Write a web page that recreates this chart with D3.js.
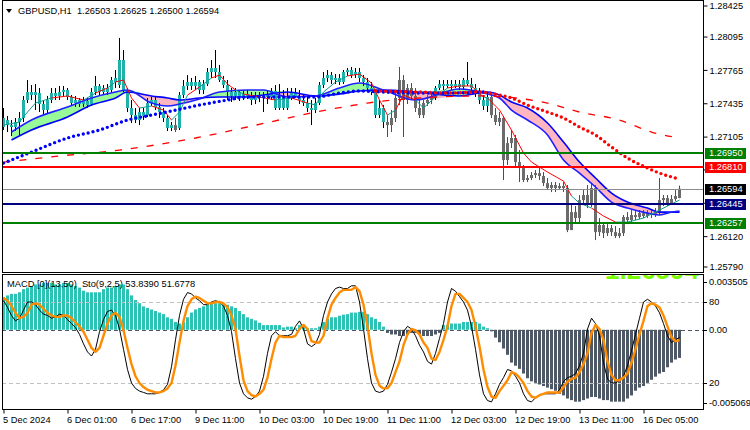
<!DOCTYPE html>
<html><head><meta charset="utf-8">
<script src="https://cdn.jsdelivr.net/npm/d3@7"></script>
<style>
body{margin:0;background:#fff}
svg{display:block}
text{font-family:"Liberation Sans",Arial,sans-serif;font-size:9.3px;fill:#000;white-space:pre}
</style></head><body>
<svg id="c" width="750" height="430"></svg>
<script>
// ---------------- DATA ----------------
const titleText = "GBPUSD,H1  1.26503 1.26625 1.26500 1.26594";
const subTitleText = "MACD [0](13,50)  Sto(9,2,5) 53.8390 51.6778";
const dateTickBars = [0,16,32,48,64,80,96,112,128,144,160];
const dateLabels = ["5 Dec 2024","6 Dec 01:00","6 Dec 17:00","9 Dec 11:00","10 Dec 03:00","10 Dec 19:00","11 Dec 11:00","12 Dec 03:00","12 Dec 19:00","13 Dec 11:00","16 Dec 05:00"];
const priceTicks = [1.28425,1.28095,1.27765,1.27435,1.27105,1.26780,1.26450,1.26120,1.25790];
const subTickValues = [0.003505,0,-0.005069];
const subTickLabels = ["0.003505","0.00","-0.005069"];
const stochLevels = [80,20];
// hourly candles [open, high, low, close]
const ohlc = [
[1.27205,1.27393,1.27175,1.27294],[1.27274,1.27314,1.27155,1.27224],[1.27224,1.27274,1.27116,1.27205],[1.27205,1.27294,1.27165,1.27254],
[1.27254,1.27353,1.27126,1.27294],[1.27294,1.27512,1.27254,1.27472],[1.27472,1.27670,1.27442,1.27551],[1.27551,1.27620,1.27472,1.27521],
[1.27521,1.27630,1.27373,1.27551],[1.27541,1.27591,1.27353,1.27432],[1.27432,1.27472,1.27323,1.27373],[1.27373,1.27512,1.27343,1.27472],
[1.27472,1.27591,1.27442,1.27541],[1.27541,1.27591,1.27472,1.27512],[1.27512,1.27611,1.27472,1.27551],[1.27551,1.27611,1.27512,1.27571],
[1.27571,1.27591,1.27472,1.27502],[1.27502,1.27521,1.27413,1.27442],[1.27442,1.27512,1.27403,1.27472],[1.27472,1.27492,1.27403,1.27432],
[1.27432,1.27502,1.27403,1.27462],[1.27462,1.27492,1.27393,1.27422],[1.27432,1.27591,1.27413,1.27551],[1.27551,1.27710,1.27521,1.27611],
[1.27611,1.27630,1.27521,1.27551],[1.27551,1.27620,1.27521,1.27591],[1.27591,1.27630,1.27521,1.27551],[1.27571,1.27700,1.27551,1.27670],
[1.27650,1.27769,1.27591,1.27690],[1.27620,1.28086,1.27591,1.27868],[1.27868,1.27967,1.27551,1.27571],[1.27571,1.27591,1.27353,1.27393],
[1.27393,1.27472,1.27244,1.27323],[1.27323,1.27393,1.27244,1.27274],[1.27274,1.27393,1.27224,1.27353],[1.27353,1.27393,1.27274,1.27314],
[1.27323,1.27492,1.27304,1.27442],[1.27442,1.27502,1.27413,1.27472],[1.27472,1.27512,1.27373,1.27403],[1.27403,1.27442,1.27294,1.27353],
[1.27353,1.27393,1.27254,1.27294],[1.27294,1.27323,1.27165,1.27195],[1.27195,1.27254,1.27165,1.27224],[1.27224,1.27294,1.27155,1.27175],
[1.27195,1.27551,1.27175,1.27521],[1.27521,1.27670,1.27492,1.27611],[1.27611,1.27719,1.27571,1.27650],[1.27650,1.27690,1.27571,1.27611],
[1.27611,1.27710,1.27571,1.27650],[1.27650,1.27670,1.27531,1.27571],[1.27571,1.27670,1.27531,1.27630],[1.27630,1.27789,1.27611,1.27749],
[1.27749,1.27868,1.27690,1.27789],[1.27789,1.27967,1.27690,1.27749],[1.27749,1.27819,1.27650,1.27670],[1.27670,1.27710,1.27591,1.27620],
[1.27620,1.27670,1.27472,1.27551],[1.27551,1.27591,1.27452,1.27512],[1.27512,1.27591,1.27472,1.27551],[1.27551,1.27571,1.27462,1.27502],
[1.27502,1.27571,1.27472,1.27531],[1.27531,1.27571,1.27482,1.27512],[1.27512,1.27551,1.27422,1.27472],[1.27472,1.27551,1.27432,1.27512],
[1.27512,1.27551,1.27452,1.27492],[1.27492,1.27551,1.27353,1.27521],[1.27521,1.27571,1.27432,1.27502],[1.27502,1.27591,1.27472,1.27561],
[1.27561,1.27620,1.27373,1.27393],[1.27393,1.27630,1.27373,1.27512],[1.27512,1.27571,1.27373,1.27393],[1.27393,1.27591,1.27373,1.27492],
[1.27492,1.27591,1.27472,1.27541],[1.27541,1.27591,1.27492,1.27512],[1.27512,1.27571,1.27432,1.27472],[1.27472,1.27521,1.27413,1.27442],
[1.27442,1.27512,1.27353,1.27393],[1.27393,1.27472,1.27224,1.27373],[1.27373,1.27492,1.27343,1.27442],[1.27442,1.27650,1.27422,1.27620],
[1.27620,1.27749,1.27591,1.27690],[1.27690,1.27769,1.27650,1.27719],[1.27719,1.27749,1.27630,1.27670],[1.27670,1.27729,1.27630,1.27690],
[1.27690,1.27729,1.27620,1.27650],[1.27650,1.27769,1.27630,1.27749],[1.27749,1.27789,1.27710,1.27769],[1.27769,1.27799,1.27690,1.27719],
[1.27719,1.27789,1.27690,1.27749],[1.27749,1.27789,1.27650,1.27690],[1.27690,1.27719,1.27611,1.27650],[1.27650,1.27690,1.27551,1.27591],
[1.27591,1.27650,1.27521,1.27551],[1.27551,1.27571,1.27294,1.27323],[1.27323,1.27472,1.27294,1.27393],[1.27393,1.27422,1.27195,1.27254],
[1.27254,1.27323,1.27106,1.27224],[1.27224,1.27373,1.27155,1.27294],[1.27294,1.27551,1.27254,1.27492],[1.27492,1.27799,1.27422,1.27670],
[1.27670,1.27719,1.27106,1.27472],[1.27472,1.27630,1.27432,1.27591],[1.27591,1.27640,1.27472,1.27512],[1.27512,1.27591,1.27353,1.27393],
[1.27393,1.27472,1.27294,1.27323],[1.27323,1.27472,1.27294,1.27442],[1.27442,1.27521,1.27413,1.27472],[1.27472,1.27531,1.27432,1.27492],
[1.27492,1.27611,1.27472,1.27591],[1.27591,1.27670,1.27571,1.27630],[1.27630,1.27670,1.27571,1.27611],[1.27611,1.27670,1.27591,1.27630],
[1.27630,1.27670,1.27571,1.27611],[1.27611,1.27670,1.27591,1.27630],[1.27630,1.27670,1.27571,1.27601],[1.27601,1.27690,1.27571,1.27670],
[1.27670,1.27848,1.27611,1.27630],[1.27630,1.27690,1.27551,1.27591],[1.27591,1.27630,1.27502,1.27551],[1.27551,1.27591,1.27432,1.27472],
[1.27472,1.27521,1.27373,1.27413],[1.27413,1.27551,1.27353,1.27502],[1.27502,1.27521,1.27294,1.27323],[1.27323,1.27393,1.27224,1.27254],
[1.27254,1.27353,1.27215,1.27294],[1.27294,1.27314,1.26680,1.26878],[1.26878,1.27106,1.26829,1.27046],[1.27046,1.27175,1.26997,1.27096],
[1.27096,1.27126,1.26819,1.26858],[1.26858,1.26977,1.26660,1.26799],[1.26799,1.26829,1.26660,1.26680],[1.26680,1.26730,1.26660,1.26700],
[1.26700,1.26759,1.26680,1.26730],[1.26730,1.26779,1.26700,1.26749],[1.26749,1.26799,1.26680,1.26720],[1.26720,1.26759,1.26621,1.26650],
[1.26650,1.26700,1.26581,1.26601],[1.26601,1.26660,1.26561,1.26631],[1.26631,1.26660,1.26561,1.26601],[1.26601,1.26650,1.26581,1.26621],
[1.26621,1.26660,1.26561,1.26601],[1.26601,1.26631,1.26165,1.26185],[1.26185,1.26433,1.26185,1.26363],[1.26363,1.26423,1.26264,1.26304],
[1.26304,1.26532,1.26264,1.26482],[1.26482,1.26581,1.26442,1.26532],[1.26532,1.26631,1.26403,1.26433],[1.26433,1.26640,1.26413,1.26601],
[1.26601,1.26631,1.26086,1.26165],[1.26165,1.26304,1.26126,1.26235],[1.26235,1.26264,1.26106,1.26155],[1.26155,1.26244,1.26126,1.26205],
[1.26205,1.26235,1.26126,1.26165],[1.26165,1.26225,1.26106,1.26126],[1.26126,1.26205,1.26106,1.26155],[1.26155,1.26334,1.26126,1.26314],
[1.26314,1.26363,1.26244,1.26284],[1.26284,1.26383,1.26264,1.26334],[1.26334,1.26373,1.26284,1.26314],[1.26314,1.26383,1.26294,1.26353],
[1.26353,1.26383,1.26304,1.26324],[1.26324,1.26383,1.26304,1.26353],[1.26353,1.26383,1.26304,1.26334],[1.26334,1.26403,1.26314,1.26363],
[1.26363,1.26700,1.26334,1.26482],[1.26482,1.26532,1.26423,1.26502],[1.26502,1.26532,1.26423,1.26452],[1.26452,1.26532,1.26433,1.26492],
[1.26492,1.26581,1.26472,1.26522],[1.26503,1.26625,1.26500,1.26594]
];
// bar ranges drawn in the bearish (grey) colour
const grayRuns = [[43,43],[96,107],[122,169]];
// fast MA (thin line) : bar index + value
const fastIdx = [0,4,6,8,12,16,20,23,26,28,30,32,34,37,40,42,44,46,49,52,54,56,58,60,64,68,72,76,78,80,83,86,89,92,94,96,98,100,103,105,108,111,114,117,120,121,124,127,130,132,136,140,142,144,147,150,153,156,160,164,166,169];
const fastVal = [1.27224,1.27254,1.27353,1.27442,1.27492,1.27512,1.27472,1.27541,1.27591,1.27650,1.27670,1.27492,1.27393,1.27413,1.27373,1.27274,1.27353,1.27521,1.27601,1.27690,1.27719,1.27630,1.27571,1.27531,1.27502,1.27472,1.27492,1.27442,1.27422,1.27551,1.27650,1.27710,1.27729,1.27640,1.27472,1.27323,1.27373,1.27521,1.27472,1.27393,1.27502,1.27591,1.27611,1.27611,1.27502,1.27492,1.27373,1.27175,1.26947,1.26858,1.26759,1.26670,1.26522,1.26452,1.26403,1.26324,1.26264,1.26264,1.26304,1.26383,1.26423,1.26482];
// cloud (two MAs with fill)
const cloudIdx = [2,7,16,22,28,31,37,41,44,49,54,61,65,71,78,84,89,95,103,114,121,124,127,131,136,140,144,148,152,156,161,164,166,169];
const cloudFast = [1.27155,1.27274,1.27403,1.27492,1.27551,1.27571,1.27442,1.27413,1.27432,1.27482,1.27551,1.27571,1.27571,1.27502,1.27512,1.27591,1.27640,1.27571,1.27472,1.27581,1.27531,1.27492,1.27373,1.27274,1.27126,1.26878,1.26749,1.26611,1.26462,1.26403,1.26353,1.26334,1.26353,1.26373];
const cloudSlow = [1.27076,1.27175,1.27304,1.27422,1.27492,1.27551,1.27512,1.27492,1.27472,1.27492,1.27502,1.27502,1.27521,1.27551,1.27512,1.27531,1.27561,1.27571,1.27551,1.27512,1.27551,1.27521,1.27452,1.27393,1.27244,1.27056,1.26858,1.26700,1.26551,1.26462,1.26403,1.26363,1.26363,1.26363];
// thick dotted MA (blue part / red part)
const blueDotIdx = [0,7,16,24,31,37,42,49,56,61,70,78,84,89,95,103,111,120];
const blueDotVal = [1.26848,1.26957,1.27096,1.27175,1.27274,1.27323,1.27363,1.27422,1.27472,1.27502,1.27502,1.27502,1.27541,1.27561,1.27551,1.27541,1.27541,1.27551];
const redDotIdx = [93,104,111,119,124,127,131,136,140,144,148,152,156,161,164,169];
const redDotVal = [1.27561,1.27551,1.27541,1.27551,1.27521,1.27492,1.27422,1.27353,1.27294,1.27205,1.27126,1.27007,1.26898,1.26799,1.26749,1.26690];
// long dashed MA
const dashIdx = [0,14,29,48,61,70,78,85,91,104,119,136,144,154,162,169];
const dashVal = [1.26858,1.26918,1.26977,1.27096,1.27205,1.27284,1.27353,1.27403,1.27442,1.27492,1.27512,1.27442,1.27353,1.27274,1.27155,1.27096];
// horizontal levels
const levelValues = [1.26950,1.26810,1.26594,1.26445,1.26257];
// MACD histogram per bar
const macdHist = [
0.0021,0.0022,0.0023,0.0023,0.0024,0.0026,0.0027,0.0028,0.0029,0.0029,
0.0030,0.0030,0.0030,0.0029,0.0029,0.0030,0.0030,0.0029,0.0028,0.0027,
0.0025,0.0024,0.0024,0.0024,0.0024,0.0026,0.0027,0.0027,0.0028,0.0029,
0.0029,0.0026,0.0022,0.0019,0.0017,0.0015,0.0014,0.0013,0.0012,0.0011,
0.0010,0.0008,0.0007,0.0005,0.0004,0.0005,0.0008,0.0011,0.0013,0.0014,
0.0015,0.0016,0.0017,0.0017,0.0017,0.0016,0.0016,0.0015,0.0014,0.0012,
0.0010,0.0008,0.0007,0.0006,0.00045,0.0003,0.0003,0.0003,0.0003,0.0003,
0.00015,0.0002,0.0002,0.0001,0.0003,0.0003,0.0001,0.0001,0.0001,0.0002,
0.0005,0.0007,0.0008,0.0008,0.0009,0.00097,0.0010,0.0011,0.0011,0.00115,
0.00115,0.0010,0.0008,0.0007,0.0005,0.0002,-0.0002,-0.0003,-0.0003,-0.0004,
-0.0004,-0.0003,-0.0002,-0.0002,-0.0003,-0.0004,-0.0004,-0.0004,-0.0003,-0.0002,
0.0003,0.0003,0.0004,0.0004,0.0004,0.0005,0.0005,0.0005,0.0005,0.0004,
0.0002,0.0001,-0.0001,-0.0005,-0.0008,-0.0012,-0.0016,-0.0021,-0.0023,-0.0025,
-0.0028,-0.0031,-0.0033,-0.0034,-0.0035,-0.0036,-0.0037,-0.0038,-0.0039,-0.0041,
-0.0042,-0.0044,-0.0045,-0.0046,-0.0046,-0.0045,-0.0044,-0.0043,-0.0043,-0.0044,
-0.0045,-0.0045,-0.0046,-0.0046,-0.0046,-0.0046,-0.0044,-0.0042,-0.0039,-0.0037,
-0.0036,-0.0034,-0.0032,-0.0030,-0.0028,-0.0027,-0.0024,-0.0021,-0.0019,-0.0018];
// Stochastic main (%K) and signal (%D) per bar
const stochMain = [
81,76,70,66,68,74,80,80,78,74, 71,70,68,69,71,70,67,64,61,56,
49,43,40,45,58,67,73,74,70,60, 45,30,20,16,14,13,12,12,12,13,
15,19,32,52,70,82,87,86,83,81, 78,78,80,81,80,77,70,58,38,20,
12,9,8,10,14,25,42,55,58,55, 55,55,56,62,66,60,49,47,49,56,
70,80,86,90,91,90,90,92,92,80, 60,38,20,14,13,14,19,28,38,50,
58,62,60,55,48,43,36,34,42,53, 64,80,90,88,84,80,74,62,45,26,
12,7,6,12,19,24,30,29,25,20, 12,7,6,9,11,12,12,12,12,15,
21,24,25,27,33,42,60,68,64,55, 35,23,20,20,22,25,33,44,56,68,
80,82,80,77,72,64,55,50,52,53.839];
const stochSignal = [
83,81,77,72,68,69,72,78,79,78, 75,72,70,69,69,70,70,68,65,62,
58,52,46,43,46,55,64,70,72,69, 59,46,34,25,20,17,15,14,13,13,
14,16,20,33,50,66,77,82,84,83, 81,79,79,80,80,79,76,70,60,40,
22,14,11,10,12,15,24,38,50,55, 54,54,54,55,60,63,60,51,50,50,
55,68,78,83,87,89,89,89,91,88, 78,62,42,26,18,16,16,20,28,36,
48,56,60,59,56,50,46,38,37,43, 52,62,77,86,86,83,80,74,62,47,
30,17,10,9,14,18,22,28,27,24, 20,14,10,9,11,12,13,13,13,13,
17,21,23,24,28,34,42,57,63,60, 52,36,26,22,22,24,27,35,45,56,
66,77,79,78,76,70,62,54,51,51.6778];

// ---------------- CHART ----------------
const svg = d3.select("#c");
const L = 2, R = 703, mTop = 0, mBot = 272, sTop = 274, sBot = 409;
const n = ohlc.length;
const x = d3.scaleLinear().domain([0, 169]).range([3.5, 679.5]);
const y = d3.scaleLinear().domain([1.2579, 1.28425]).range([270, 3.7]);
const yM = d3.scaleLinear().domain([-0.005069, 0.003505]).range([409, 275]);
const yS = d3.scaleLinear().domain([0, 100]).range([410, 275]);

const TEAL = "#20b2aa", GREY = "#6b6b6b", CRIMSON = "#c8143c";

const defs = svg.append("defs");
defs.append("clipPath").attr("id","cm").append("rect").attr("x",L).attr("y",mTop).attr("width",R-L).attr("height",mBot-mTop);
defs.append("clipPath").attr("id","cs").append("rect").attr("x",L).attr("y",sTop).attr("width",R-L).attr("height",sBot-sTop);

const gM = svg.append("g").attr("clip-path","url(#cm)");
const curve = d3.curveMonotoneX;

// cloud fills
const cloud = cloudIdx.map((b,k)=>({b, f:cloudFast[k], s:cloudSlow[k]}));
gM.append("path").datum(cloud).attr("fill","#98fb98")
  .attr("d", d3.area().curve(curve).x(d=>x(d.b)).y0(d=>y(d.s)).y1(d=>y(Math.max(d.f,d.s))));
gM.append("path").datum(cloud).attr("fill","#ffb6c1")
  .attr("d", d3.area().curve(curve).x(d=>x(d.b)).y0(d=>y(d.s)).y1(d=>y(Math.min(d.f,d.s))));

// candles
const isGray = i => grayRuns.some(([s,e]) => i>=s && i<=e);
const candles = ohlc.map((d,i)=>({i, o:d[0], h:d[1], l:d[2], c:d[3], g:isGray(i)}));
gM.selectAll(".wk").data(candles).join("line")
  .attr("x1",d=>x(d.i)).attr("x2",d=>x(d.i))
  .attr("y1",d=>y(d.h)).attr("y2",d=>y(d.l))
  .attr("stroke",d=>d.g?CRIMSON:"#000").attr("stroke-width",1);
gM.selectAll(".bd").data(candles).join("rect")
  .attr("x",d=>x(d.i)-1.5).attr("width",3)
  .attr("y",d=>y(Math.max(d.o,d.c)))
  .attr("height",d=>Math.max(1, Math.abs(y(d.o)-y(d.c))))
  .attr("fill",d=>d.g?GREY:TEAL);

// cloud lines
const lnF = d3.line().curve(curve).x(d=>x(d.b)).y(d=>y(d.f));
const lnS = d3.line().curve(curve).x(d=>x(d.b)).y(d=>y(d.s));
gM.append("path").datum(cloud).attr("d",lnS).attr("fill","none").attr("stroke","#0000ff").attr("stroke-width",1.6);
gM.append("path").datum(cloud).attr("d",lnF).attr("fill","none").attr("stroke","#2020ff").attr("stroke-width",1.6);

// fast thin MA, coloured by position relative to close
for (let k=0;k<fastIdx.length-1;k++){
  const i1 = fastIdx[k+1];
  const col = ohlc[i1][3] >= fastVal[k+1] ? "#119c90" : "#ff0000";
  gM.append("line")
    .attr("x1",x(fastIdx[k])).attr("y1",y(fastVal[k]))
    .attr("x2",x(i1)).attr("y2",y(fastVal[k+1]))
    .attr("stroke",col).attr("stroke-width",1);
}

// long dashed MA
const pts = (ix, vs) => ix.map((b,k)=>({b, v:vs[k]}));
const lnV = d3.line().curve(curve).x(d=>x(d.b)).y(d=>y(d.v));
gM.append("path").datum(pts(dashIdx,dashVal)).attr("d",lnV).attr("fill","none")
  .attr("stroke","#ff0000").attr("stroke-width",1.3).attr("stroke-dasharray","7 9");

// thick dotted MAs
gM.append("path").datum(pts(blueDotIdx,blueDotVal)).attr("d",lnV).attr("fill","none")
  .attr("stroke","#0000ff").attr("stroke-width",3.4).attr("stroke-linecap","round").attr("stroke-dasharray","0 5");
gM.append("path").datum(pts(redDotIdx,redDotVal)).attr("d",lnV).attr("fill","none")
  .attr("stroke","#ff0000").attr("stroke-width",3.4).attr("stroke-linecap","round").attr("stroke-dasharray","0 5");

// horizontal levels
const levelStyle = [
  {c:"#008000", w:2, box:"#008000"},
  {c:"#ff0000", w:2, box:"#ff0000"},
  {c:"#8c8c8c", w:1, box:"#000000"},
  {c:"#000080", w:2, box:"#000080"},
  {c:"#008000", w:2, box:"#008000"}];
levelValues.forEach((v,k)=>{
  gM.append("line").attr("x1",L).attr("x2",R).attr("y1",Math.round(y(v))+ (levelStyle[k].w===1?0.5:0)).attr("y2",Math.round(y(v))+(levelStyle[k].w===1?0.5:0))
    .attr("stroke",levelStyle[k].c).attr("stroke-width",levelStyle[k].w);
});

// right price axis
const axR = d3.axisRight(y).tickValues(priceTicks).tickFormat(d=>d.toFixed(5)).tickSize(4).tickPadding(2);
const gAx = svg.append("g").attr("transform",`translate(${R+0.5},0)`).call(axR);
gAx.select(".domain").remove();
gAx.selectAll("text").attr("font-family","Liberation Sans, Arial, sans-serif").attr("font-size","9.3px").attr("fill","#000")
  .attr("dy","0.34em").attr("y", function(d){ return 0; });
gAx.selectAll(".tick").attr("transform", d=>`translate(0,${Math.min(Math.max(y(d),6),267)})`);
gAx.selectAll("line").attr("stroke","#000");

// level labels (boxes)
levelValues.forEach((v,k)=>{
  const yy = y(v);
  svg.append("rect").attr("x",R+2).attr("y",Math.round(yy)-5).attr("width",41).attr("height",11).attr("fill",levelStyle[k].box);
  svg.append("text").attr("x",R+6).attr("y",yy).attr("dy","0.36em").attr("fill","#fff").style("fill","#fff").text(v.toFixed(5));
});

// ---------------- SUB WINDOW ----------------
const gS = svg.append("g").attr("clip-path","url(#cs)");
// watermark-like large green text cut by the window top
gS.append("text").attr("x",R-4).attr("y",279).attr("text-anchor","end")
  .style("font-size","26px").style("font-weight","bold").style("fill","#7cfc00").text("1.26594");

gS.selectAll(".hb").data(macdHist).join("rect")
  .attr("x",(d,i)=>x(i)-1.5).attr("width",3)
  .attr("y",d=>yM(Math.max(0,d))).attr("height",d=>Math.max(0.5,Math.abs(yM(d)-yM(0))))
  .attr("fill",d=>d>=0?"#2cc3b5":"#4f5966");

stochLevels.forEach(v=>{
  gS.append("line").attr("x1",L).attr("x2",R).attr("y1",Math.round(yS(v))+0.5).attr("y2",Math.round(yS(v))+0.5)
    .attr("stroke","#c0c0c0").attr("stroke-dasharray","4 3");
});
gS.append("line").attr("x1",L).attr("x2",R).attr("y1",Math.round(yM(0))+0.5).attr("y2",Math.round(yM(0))+0.5)
  .attr("stroke","#4f5966").attr("stroke-dasharray","4 3");

const lnSt = d3.line().x((d,i)=>x(i)).y(d=>yS(d));
gS.append("path").datum(stochMain).attr("d",lnSt).attr("fill","none").attr("stroke","#000").attr("stroke-width",1);
gS.append("path").datum(stochSignal).attr("d",lnSt).attr("fill","none").attr("stroke","#ff8c00").attr("stroke-width",2.4).attr("stroke-linejoin","round");

// sub labels
const subLab = [];
subTickValues.forEach((v,k)=>subLab.push({y:Math.min(Math.max(yM(v),sTop+8),sBot-6), t:subTickLabels[k]}));
stochLevels.forEach(v=>subLab.push({y:yS(v), t:String(v)}));
subLab.forEach(d=>{
  svg.append("line").attr("x1",R).attr("x2",R+4).attr("y1",Math.round(d.y)+0.5).attr("y2",Math.round(d.y)+0.5).attr("stroke","#000");
  svg.append("text").attr("x",R+6).attr("y",d.y).attr("dy","0.34em").text(d.t);
});

// frames
svg.append("rect").attr("x",L+0.5).attr("y",mTop+0.5).attr("width",R-L).attr("height",mBot-mTop).attr("fill","none").attr("stroke","#000");
svg.append("rect").attr("x",L+0.5).attr("y",sTop+0.5).attr("width",R-L).attr("height",sBot-sTop).attr("fill","none").attr("stroke","#000");

// bottom time axis
const axB = d3.axisBottom(x).tickValues(dateTickBars).tickFormat((d,k)=>dateLabels[k]).tickSize(4).tickPadding(3);
const gB = svg.append("g").attr("transform",`translate(0,${sBot+0.5})`).call(axB);
gB.select(".domain").remove();
gB.selectAll("line").attr("stroke","#000");
gB.selectAll("text").attr("text-anchor","start").attr("dx","-1").attr("font-family","Liberation Sans, Arial, sans-serif").attr("font-size","9.3px").attr("fill","#000");

// titles
svg.append("path").attr("d","M6,9 L12,9 L9,13 Z").attr("fill","#000");
svg.append("text").attr("x",18).attr("y",14).text(titleText);
svg.append("text").attr("x",7).attr("y",287).text(subTitleText);
</script>
</body></html>
